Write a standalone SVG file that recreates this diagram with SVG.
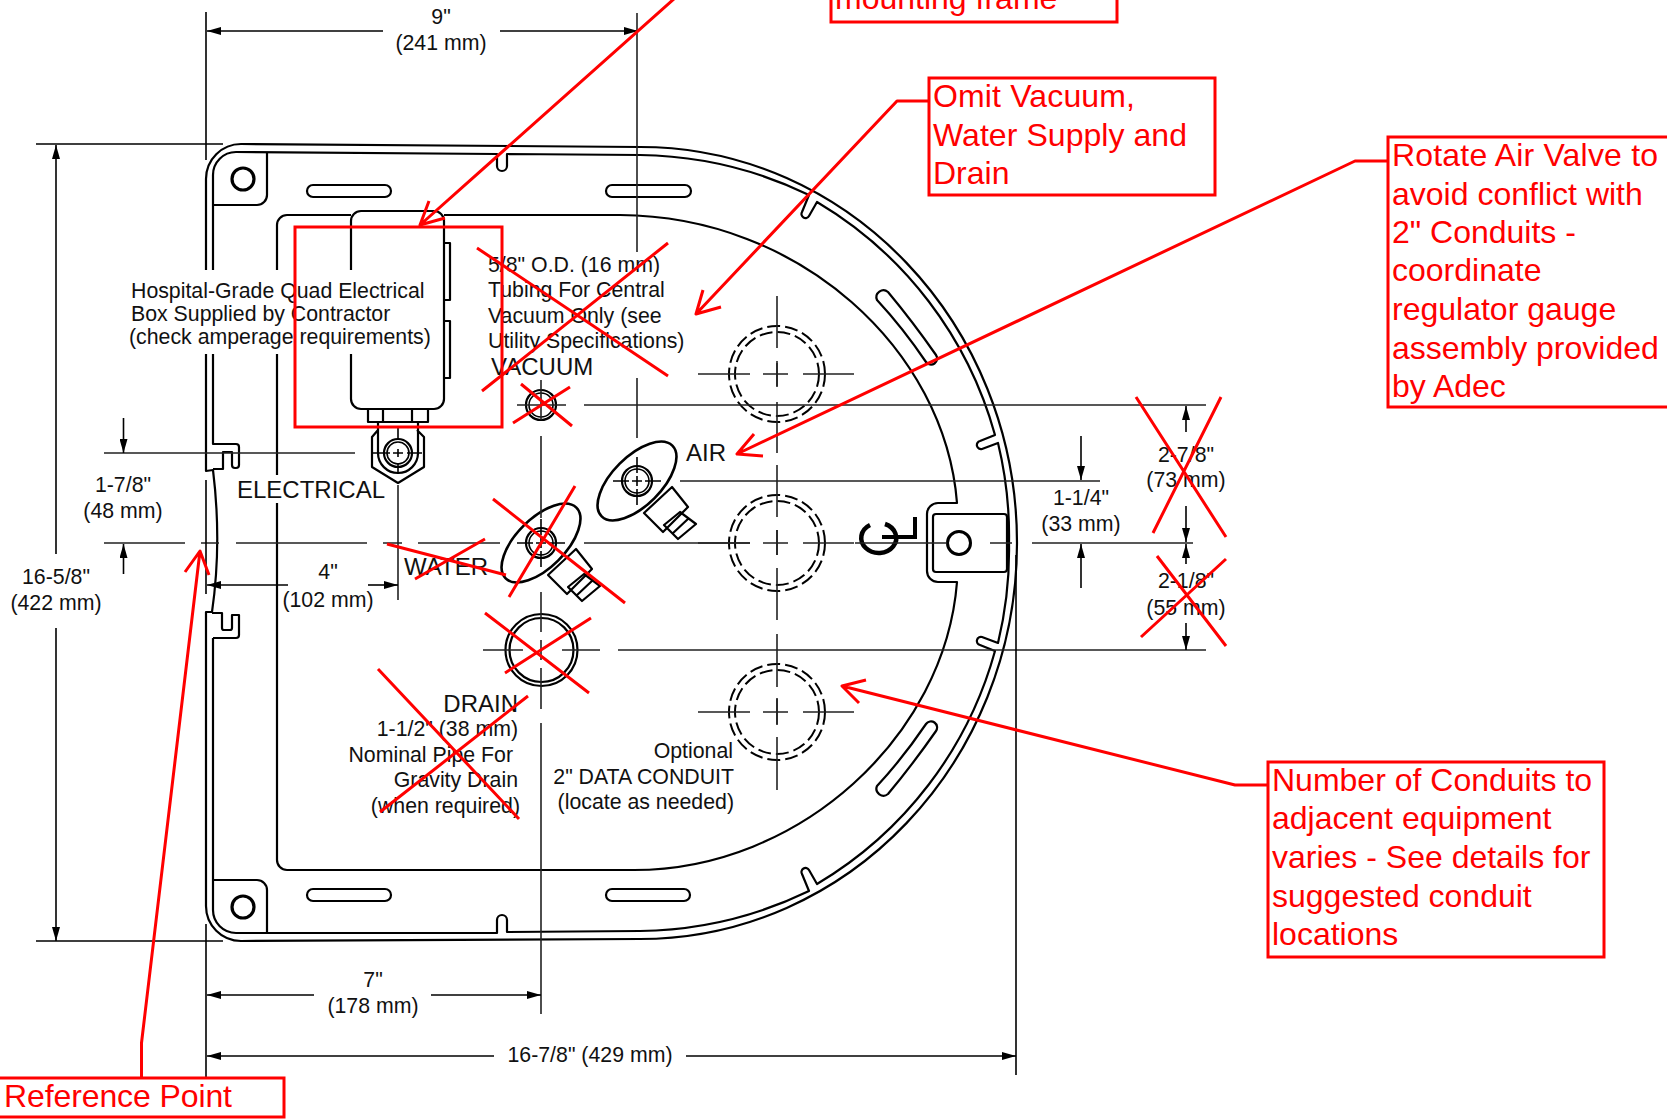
<svg xmlns="http://www.w3.org/2000/svg" width="1667" height="1119" viewBox="0 0 1667 1119">
<style>
text{font-family:"Liberation Sans",Arial,sans-serif;font-size:21.3px;fill:#111}
.lb{font-size:24px}
.m{text-anchor:middle}
.e{text-anchor:end}
.r{font-size:32px;fill:#f00}
.o{fill:none;stroke:#000;stroke-width:2.2;stroke-linejoin:round}
.t{fill:none;stroke:#000;stroke-width:1.6}
.c{fill:none;stroke:#222;stroke-width:1.6}
.d{fill:none;stroke:#000;stroke-width:2;stroke-dasharray:13 5}
.x{fill:none;stroke:#f00;stroke-width:3}
.b{fill:none;stroke:#f00;stroke-width:3}
.l{fill:none;stroke:#f00;stroke-width:3;stroke-linejoin:round}
.dim1{fill:none;stroke:#000;stroke-width:1.6;marker-end:url(#ah)}
</style>
<defs>
<marker id="ah" viewBox="0 0 14 8" refX="14" refY="4" markerWidth="14" markerHeight="8" markerUnits="userSpaceOnUse" orient="auto-start-reverse"><path d="M0 0L14 4L0 8z" fill="#000"/></marker>
<g id="valve">
<ellipse rx="50" ry="24.500" transform="rotate(-45)" class="o" style="stroke-width:2.6"/>
<circle r="15" class="o"/><circle r="12" class="o" style="stroke-width:1.6"/>
<path class="o" d="M35 6L51 26L26 51L7 32zM43 31L59 43L41 58L27 44zM52 37L35 53"/>
<path class="t" d="M-24 0H-8M-5 0H5M8 0H24M0 -24V-8M0 -5V5M0 8V24"/>
</g>
<g id="conduit">
<circle r="48" class="d"/><circle r="42" class="d"/>
<path class="c" d="M-79 0H-27M-14 0H11M26 0H77M0 -13V12"/>
</g>
</defs>

<g id="frame">
<path class="o" d="M206 270V179A35 35 0 0 1 241 144L640 147C848 147 1017 324 1017 543C1017 762 848 939 640 939L241 941A35 35 0 0 1 206 906V612H212"/>
<path class="o" d="M206 354V471L213 470Q222 543 212 612"/>
<path class="o" d="M213 270V175A23 23 0 0 1 236 152L497 154V166A5 5 0 0 0 507 166V154L640 155A400 400 0 0 1 809 195L802 212A4 4 0 0 0 809 216L817 202A392 392 0 0 1 995 435L980 441A4 4 0 0 0 982 449L998 443A392 392 0 0 1 1009 543A392 392 0 0 1 998 643L982 637A4 4 0 0 0 980 645L995 651A392 392 0 0 1 817 884L809 870A4 4 0 0 0 802 874L809 891A400 400 0 0 1 640 931L507 932V920A5 5 0 0 0 497 920V933L236 933A23 23 0 0 1 213 910V638"/>
<path class="o" d="M213 354V444H236Q239 444 239 447V465Q239 468 236 468H235Q232 468 232 465V452H223V469H213"/>
<path class="o" d="M212 613H222V628Q222 630 224 630H230Q232 630 232 628V615H239V635Q239 638 236 638H213"/>
<path class="o" d="M267 152V195A10 10 0 0 1 257 205H213M213 880H257A10 10 0 0 1 267 890V933"/>
<circle class="o" cx="243" cy="179" r="11" style="stroke-width:3.2"/>
<circle class="o" cx="243" cy="907" r="11" style="stroke-width:3.2"/>
<rect class="o" x="307" y="185" width="84" height="12" rx="6"/>
<rect class="o" x="606" y="185" width="85" height="12" rx="6"/>
<rect class="o" x="307" y="889" width="84" height="12" rx="6"/>
<rect class="o" x="606" y="889" width="84" height="12" rx="6"/>
<path class="o" d="M888 292Q913 322 936 355A6 6 0 0 1 926 362Q903 328 877 300A7 7 0 0 1 888 292Z"/>
<path class="o" d="M888 794Q913 764 936 731A6 6 0 0 0 926 724Q903 758 877 786A7 7 0 0 0 888 794Z"/>
<path class="o" d="M277 270V225A10 10 0 0 1 287 215H351M444 215H620C800 216 945 350 957 503H938A11 11 0 0 0 927 514V571A11 11 0 0 0 938 582H957C945 736 800 870 634 870H287A10 10 0 0 1 277 860V503M277 475V354"/>
<path class="o" d="M936 514H1004Q1007 514 1007 517V569Q1007 572 1004 572H936Q933 572 933 569V517Q933 514 936 514Z"/>
<circle class="o" cx="959" cy="543" r="11.500" style="stroke-width:3"/>
<path class="o" style="stroke-width:4.500;stroke-linejoin:miter" d="M870 525A17.500 15 0 1 0 885 524"/>
<path class="o" style="stroke-width:4;stroke-linejoin:miter" d="M915 517V537H882"/>
</g>

<g id="electrical-box">
<path class="o" d="M351 270V221A10 10 0 0 1 361 211H434A10 10 0 0 1 444 221V399A10 10 0 0 1 434 409H361A10 10 0 0 1 351 399V354"/>
<path class="o" d="M444 243H450V300H444M444 321H450V378H444M368 409H428V422H368ZM383 409V422M412 409V422"/>
<path class="o" d="M378 422V453A20 20 0 0 0 418 453V422M378 430L372 437V467L398 483L424 467V437L417 430"/>
<circle class="o" cx="398" cy="453" r="14"/><circle class="o" cx="398" cy="453" r="11" style="stroke-width:1.6"/>
<path class="t" d="M373 453H390M393 453H403M407 453H422M398 428V440M398 449V457M398 463V473"/>
</g>
<g id="vacuum-fitting">
<circle class="o" cx="541" cy="405" r="15"/><circle class="o" cx="541" cy="405" r="12" style="stroke-width:1.6"/>
</g>
<use id="air-valve" href="#valve" x="637" y="481"/>
<use id="water-valve" href="#valve" x="541" y="543"/>
<g id="drain-pipe">
<circle class="o" cx="541.500" cy="650" r="36"/><circle class="o" cx="541.500" cy="650" r="32"/>
</g>
<use id="conduit-1" href="#conduit" x="777" y="374"/>
<use id="conduit-2" href="#conduit" x="777" y="543"/>
<use id="conduit-3" href="#conduit" x="777" y="712"/>

<g id="connectors">
<path class="c" d="M777 296V348M777 363V387M777 402V453M777 465V517M777 530V555M777 568V620M777 634V687M777 698V725M777 737V790"/>
<path class="c" d="M104 453H355M104 543H185M201 543H219M236 543H367M383 543H402M418 543H500M584 543H750M855 543H947M990 543H1012M1032 543H1193"/>
<path class="c" d="M517 405H566M584 405H1206M680 481H1100M483 650H523M562 650H600M618 650H1206"/>
<path class="c" d="M541 380V420M541 436V518M541 592V632M541 640V660M541 668V709M541 723V1014M637 13V252M637 378V438M398 485V600"/>
<path class="t" d="M206 12V160M206 480V594M206 924V1077M1016 555V1075M36 144H223M36 941H223"/>
<path class="dim1" d="M383 31H207"/><path class="dim1" d="M500 31H638"/>
<path class="dim1" d="M56 554V145"/><path class="dim1" d="M56 628V941"/>
<path class="dim1" d="M123.500 418V453"/><path class="dim1" d="M123.500 574V544"/>
<path class="dim1" d="M288 585H207"/><path class="dim1" d="M368 585H398"/>
<path class="dim1" d="M314 995H207"/><path class="dim1" d="M431 995H541"/>
<path class="dim1" d="M494 1056H207"/><path class="dim1" d="M686 1056H1016"/>
<path class="dim1" d="M1081 436V480"/><path class="dim1" d="M1081 588V544"/>
<path class="dim1" d="M1186 432V406"/><path class="dim1" d="M1186 506V542"/>
<path class="dim1" d="M1186 564V544"/><path class="dim1" d="M1186 623V650"/>
</g>

<g id="labels">
<text class="m" x="441" y="24">9"</text><text class="m" x="441" y="50">(241 mm)</text>
<text x="131" y="298">Hospital-Grade Quad Electrical</text>
<text x="131" y="321">Box Supplied by Contractor</text>
<text x="129" y="344">(check amperage requirements)</text>
<text x="488" y="272">5/8" O.D. (16 mm)</text>
<text x="488" y="297">Tubing For Central</text>
<text x="488" y="323">Vacuum Only (see</text>
<text x="488" y="348">Utility Specifications)</text>
<text class="lb" x="491" y="375">VACUUM</text>
<text class="lb" x="686" y="461">AIR</text>
<text class="lb" x="237" y="498">ELECTRICAL</text>
<text class="lb" x="404" y="575">WATER</text>
<text class="lb e" x="518" y="712">DRAIN</text>
<text class="e" x="518" y="736">1-1/2" (38 mm)</text>
<text class="e" x="513" y="762">Nominal Pipe For</text>
<text class="e" x="518" y="787">Gravity Drain</text>
<text class="e" x="520" y="813">(when required)</text>
<text class="e" x="733" y="758">Optional</text>
<text class="e" x="734" y="784">2" DATA CONDUIT</text>
<text class="e" x="734" y="809">(locate as needed)</text>
<text class="m" x="56" y="584">16-5/8"</text><text class="m" x="56" y="610">(422 mm)</text>
<text class="m" x="123" y="492">1-7/8"</text><text class="m" x="123" y="518">(48 mm)</text>
<text class="m" x="328" y="579">4"</text><text class="m" x="328" y="607">(102 mm)</text>
<text class="m" x="373" y="987">7"</text><text class="m" x="373" y="1013">(178 mm)</text>
<text class="m" x="590" y="1062">16-7/8" (429 mm)</text>
<text class="m" x="1081" y="505">1-1/4"</text><text class="m" x="1081" y="531">(33 mm)</text>
<text class="m" x="1186" y="462">2-7/8"</text><text class="m" x="1186" y="487">(73 mm)</text>
<text class="m" x="1186" y="588">2-1/8"</text><text class="m" x="1186" y="615">(55 mm)</text>
</g>

<g id="markup">
<path class="x" d="M477 248L668 376M482 391L668 243M521 384L572 426M513 423L570 387M493 499L625 603M509 597L575 486M387 544L506 575M415 579L485 539M485 613L589 693M591 618L505 673M378 669L519 819M528 696L380 812M1136 397L1226 537M1153 533L1221 397M1157 556L1226 646M1141 637L1226 559"/>
<rect class="b" x="295" y="227" width="207" height="200"/>
<path class="l" d="M675 -2L420 225M429 201L420 225L445 218"/>
<path class="l" d="M929 101H897L696 314M703 290L696 314L721 307"/>
<path class="l" d="M1387 161H1355L737 454M754 434L737 454L763 456"/>
<path class="l" d="M1268 785H1235L842 686M866 680L842 686L859 703"/>
<path class="l" d="M141.500 1078V1043L200 551M185 572L200 551L209 575"/>
</g>

<g id="note-top"><rect class="b" x="831" y="-20" width="286" height="42"/><text class="r" x="835" y="9">mounting frame</text></g>
<g id="note-omit"><rect class="b" x="929" y="78" width="286" height="117"/>
<text class="r" x="933" y="107" textLength="202">Omit Vacuum,</text><text class="r" x="933" y="146" textLength="254">Water Supply and</text><text class="r" x="933" y="184">Drain</text></g>
<g id="note-rotate"><rect class="b" x="1388" y="137" width="290" height="270"/>
<text class="r" x="1392" y="166" textLength="266">Rotate Air Valve to</text><text class="r" x="1392" y="205">avoid conflict with</text><text class="r" x="1392" y="243">2" Conduits -</text><text class="r" x="1392" y="281">coordinate</text><text class="r" x="1392" y="320">regulator gauge</text><text class="r" x="1392" y="359">assembly provided</text><text class="r" x="1392" y="397">by Adec</text></g>
<g id="note-number"><rect class="b" x="1268" y="762" width="336" height="195"/>
<text class="r" x="1272" y="791">Number of Conduits to</text><text class="r" x="1272" y="829">adjacent equipment</text><text class="r" x="1272" y="868">varies - See details for</text><text class="r" x="1272" y="907">suggested conduit</text><text class="r" x="1272" y="945">locations</text></g>
<g id="note-reference"><rect class="b" x="-4" y="1078" width="288" height="39"/><text class="r" x="4" y="1107" textLength="228">Reference Point</text></g>
</svg>
